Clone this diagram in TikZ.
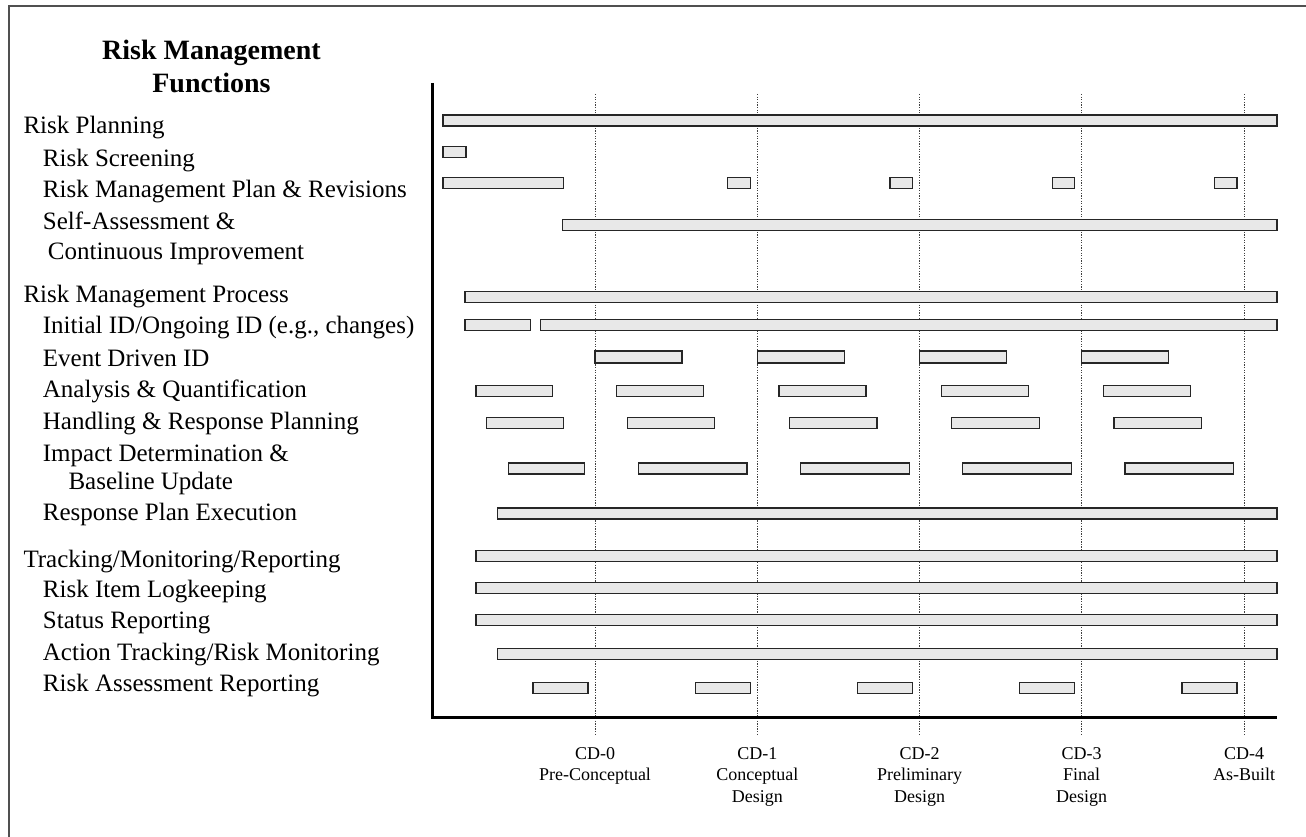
\documentclass[tikz,border=0pt]{standalone}
\usepackage{fontspec}
\setmainfont{Liberation Serif}
\definecolor{barfill}{HTML}{E8E8E8}
\definecolor{framegray}{HTML}{505050}
\tikzset{
  barbox/.style={draw=black!85, line width=1.3pt, fill=barfill},
  axisline/.style={line width=2.8pt, black},
  gridline/.style={line width=1pt, black!75, dash pattern=on 1.3pt off 1.3pt},
  framebox/.style={line width=2pt, framegray},
  lbl/.style={anchor=base west, inner sep=0pt, font=\fontsize{25}{30}\selectfont},
  ttl/.style={anchor=north, inner sep=0pt, align=center, font=\fontsize{28}{32.4}\selectfont\bfseries},
  cdl/.style={anchor=north, inner sep=0pt, align=center, font=\fontsize{18}{21.5}\selectfont},
}
\newcommand{\gantt}[4][11]{\draw[barbox] ({#2},{#4-#1/2}) rectangle ({#3},{#4+#1/2});}
\begin{document}
\begin{tikzpicture}[x=1pt,y=-1pt]
\useasboundingbox (0,0) rectangle (1306,837);
% frame
\coordinate (fa) at (9,837);
\coordinate (fb) at (9,6);
\coordinate (fc) at (1306,6);
\draw[framebox] (fa) -- (fb) -- (fc);
% title
\node[ttl] (title) at (211.5,40.3) {Risk Management\\Functions};
% labels
\node[lbl] (l1) at (23.3,133.3) {Risk Planning};
\node[lbl] (l2) at (42.7,166.3) {Risk Screening};
\node[lbl] (l3) at (42.7,197.5) {Risk Management Plan \& Revisions};
\node[lbl] (l4) at (42.7,229.5) {Self-Assessment \&};
\node[lbl] (l4b) at (47.7,259.3) {Continuous Improvement};
\node[lbl] (l5) at (23.3,302.7) {Risk Management Process};
\node[lbl] (l6) at (42.7,333.3) {Initial ID/Ongoing ID (e.g., changes)};
\node[lbl] (l7) at (42.7,366) {Event Driven ID};
\node[lbl] (l8) at (42.7,397.3) {Analysis \& Quantification};
\node[lbl] (l9) at (42.7,429) {Handling \& Response Planning};
\node[lbl] (l10) at (42.7,461.7) {Impact Determination \&};
\node[lbl] (l10b) at (68.3,489.3) {Baseline Update};
\node[lbl] (l11) at (42.7,520.7) {Response Plan Execution};
\node[lbl] (l12) at (23.3,567) {Tracking/Monitoring/Reporting};
\node[lbl] (l13) at (42.7,597) {Risk Item Logkeeping};
\node[lbl] (l14) at (42.7,628) {Status Reporting};
\node[lbl] (l15) at (42.7,660) {Action Tracking/Risk Monitoring};
\node[lbl] (l16) at (42.7,691.7) {Risk Assessment Reporting};
% milestone grid lines
\foreach \d/\n in {595/0,757.3/1,919.5/2,1081.7/3,1244/4}{
  \coordinate (gt\n) at (\d,94);
  \coordinate (gb\n) at (\d,736);
  \draw[gridline] (gt\n) -- (gb\n);
}
% axes
\coordinate (ax0) at (432.7,83);
\coordinate (ax1) at (432.7,717.3);
\coordinate (ax2) at (1277,717.3);
\draw[axisline] (ax0) -- (ax1) -- (ax2);
% milestone labels
\node[cdl] (cd0) at (595,747.3) {CD-0\\Pre-Conceptual};
\node[cdl] (cd1) at (757.3,747.3) {CD-1\\Conceptual\\Design};
\node[cdl] (cd2) at (919.5,747.3) {CD-2\\Preliminary\\Design};
\node[cdl] (cd3) at (1081.7,747.3) {CD-3\\Final\\Design};
\node[cdl] (cd4) at (1244,747.3) {CD-4\\As-Built};
% bars
\gantt{443}{1277}{120.5}
\gantt{443}{466}{152}
\gantt{443}{563.3}{183}
\foreach \d in {757.3,919.5,1081.7,1244}{\gantt{\d-29.5}{\d-7}{183}}
\gantt{562.7}{1277}{224.7}
\gantt{465}{1277}{297}
\gantt{465}{530.7}{325}
\gantt{540.7}{1277}{325}
\foreach \d in {595,757.3,919.5,1081.7}{\gantt[12]{\d}{\d+87}{357}}
\gantt{476}{552.3}{390.7}
\foreach \d in {595,757.3,919.5,1081.7}{\gantt{\d+21.7}{\d+108.7}{390.7}}
\gantt{486.7}{563.3}{423.3}
\foreach \d in {595,757.3,919.5,1081.7}{\gantt{\d+32.3}{\d+119.7}{423.3}}
\gantt{508.3}{584.7}{468.5}
\foreach \d in {595,757.3,919.5,1081.7}{\gantt{\d+43.3}{\d+152}{468.5}}
\gantt{497.3}{1277}{513.5}
\gantt{476}{1277}{556}
\gantt{476}{1277}{588}
\gantt{476}{1277}{620}
\gantt{497.3}{1277}{653.7}
\foreach \d in {595,757.3,919.5,1081.7,1244}{\gantt{\d-62}{\d-7}{688}}
\end{tikzpicture}
\end{document}
